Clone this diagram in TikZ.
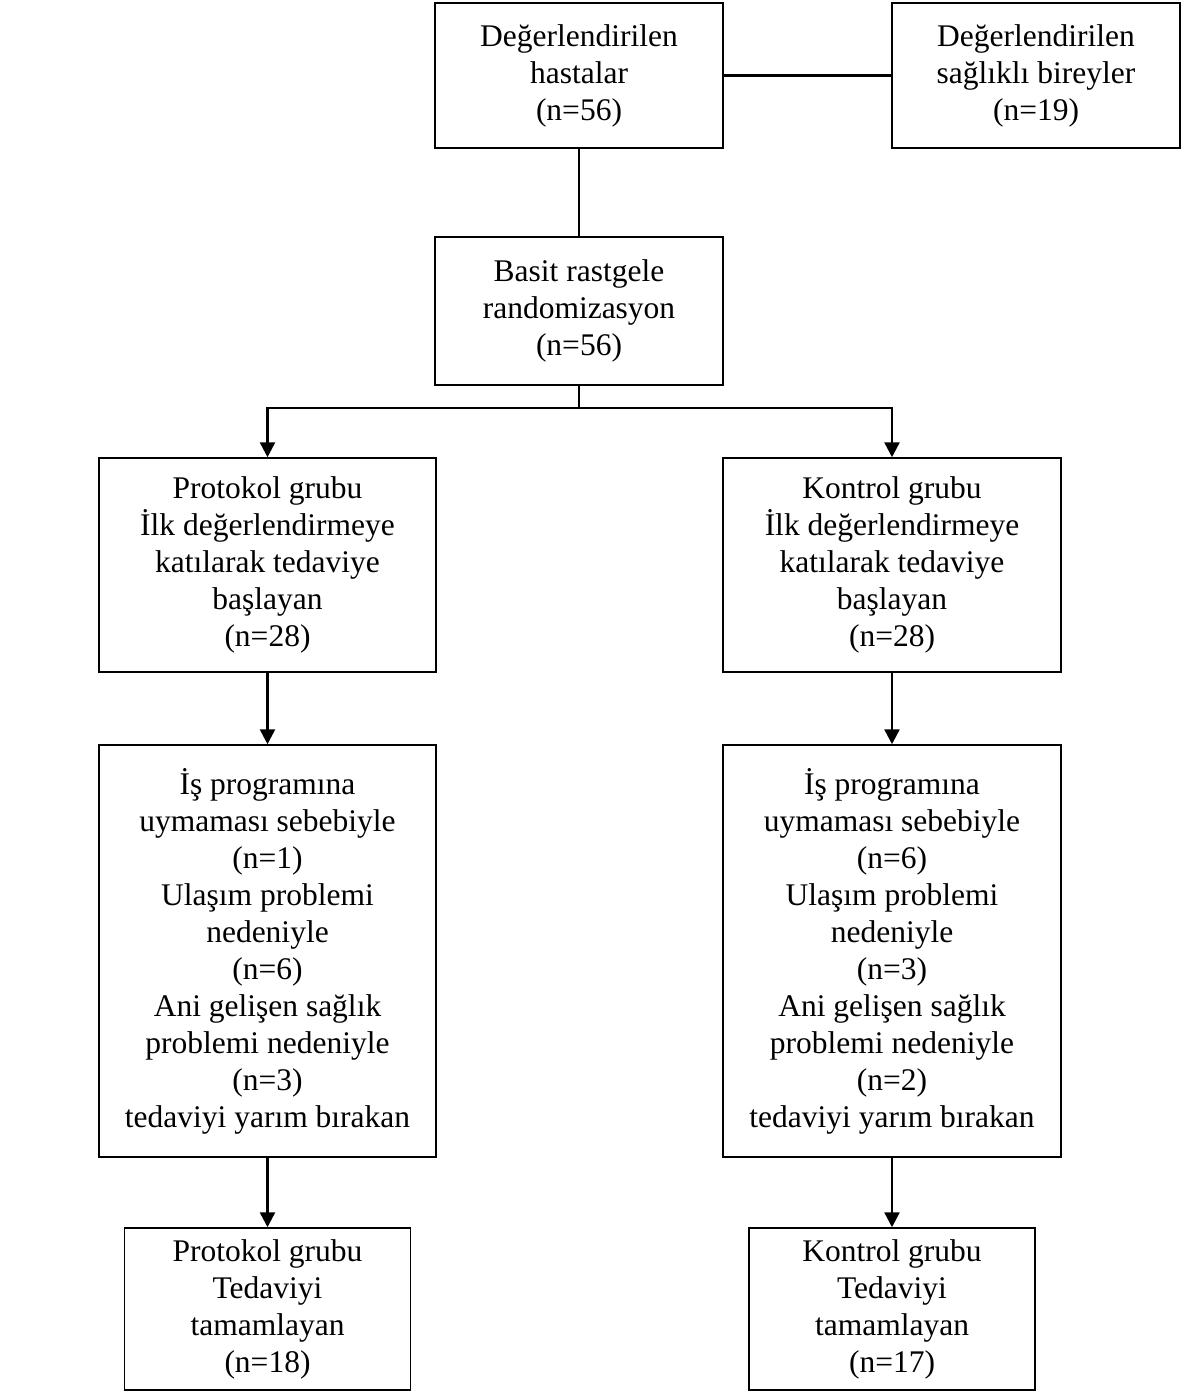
\documentclass[tikz,border=0pt]{standalone}
\usepackage{fontspec}
\setmainfont{Liberation Serif}
\usetikzlibrary{arrows.meta}
\begin{document}
\begin{tikzpicture}[x=1pt,y=-1pt,
  box/.style={draw,line width=1.5pt,inner sep=0pt,align=center,
    font=\fontsize{31.5}{37}\selectfont},
  conn/.style={line width=2.5pt},
  arr/.style={conn,-{Triangle[width=15pt,length=15pt]}}]
\useasboundingbox (0,0) rectangle (1187,1395);
\node[box,minimum width=288pt,minimum height=145pt] (b1) at (579,75.5) {Değerlendirilen\\hastalar\\(n=56)};
\node[box,minimum width=288pt,minimum height=145pt] (b2) at (1036,75.5) {Değerlendirilen\\sağlıklı bireyler\\(n=19)};
\node[box,minimum width=288pt,minimum height=148pt] (b3) at (579,311) {Basit rastgele\\randomizasyon\\(n=56)};
\node[box,minimum width=337pt,minimum height=214pt] (b4) at (267.5,565) {Protokol grubu\\İlk değerlendirmeye\\katılarak tedaviye\\başlayan\\(n=28)};
\node[box,minimum width=338pt,minimum height=214pt] (b5) at (892,565) {Kontrol grubu\\İlk değerlendirmeye\\katılarak tedaviye\\başlayan\\(n=28)};
\node[box,minimum width=337pt,minimum height=412pt] (b6) at (267.5,951) {İş programına\\uymaması sebebiyle\\(n=1)\\Ulaşım problemi\\nedeniyle\\(n=6)\\Ani gelişen sağlık\\problemi nedeniyle\\(n=3)\\tedaviyi yarım bırakan};
\node[box,minimum width=338pt,minimum height=412pt] (b7) at (892,951) {İş programına\\uymaması sebebiyle\\(n=6)\\Ulaşım problemi\\nedeniyle\\(n=3)\\Ani gelişen sağlık\\problemi nedeniyle\\(n=2)\\tedaviyi yarım bırakan};
\node[box,minimum width=286pt,minimum height=162pt] (b8) at (267.5,1309) {Protokol grubu\\Tedaviyi\\tamamlayan\\(n=18)};
\node[box,minimum width=286pt,minimum height=162pt] (b9) at (892,1309) {Kontrol grubu\\Tedaviyi\\tamamlayan\\(n=17)};
\coordinate (split) at (579,408);
\draw[conn] (b1.east) -- (b2.west);
\draw[conn] (b1.south) -- (b3.north);
\draw[conn] (b3.south) -- (split);
\draw[arr] (split) -| (b4.north);
\draw[arr] (split) -| (b5.north);
\draw[arr] (b4.south) -- (b6.north);
\draw[arr] (b5.south) -- (b7.north);
\draw[arr] (b6.south) -- (b8.north);
\draw[arr] (b7.south) -- (b9.north);
\end{tikzpicture}
\end{document}
